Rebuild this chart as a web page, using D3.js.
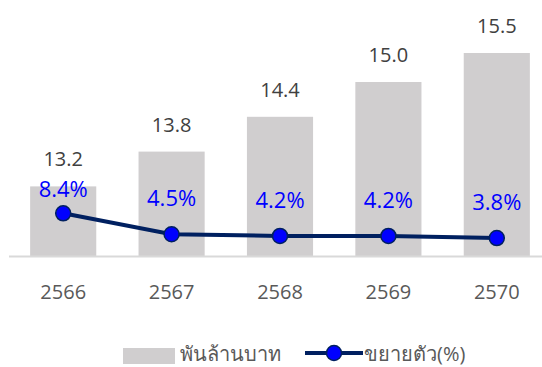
<!DOCTYPE html>
<html>
<head>
<meta charset="utf-8">
<script src="https://cdn.jsdelivr.net/npm/d3@7"></script>
<style>
  body { margin: 0; background: #fff; }
  svg text { font-family: "Open Sans", "Noto Sans", sans-serif; }
</style>
</head>
<body>
<div id="chart"></div>
<script>
// ข้อมูล
const years = ["2566", "2567", "2568", "2569", "2570"];
const values = [13.2, 13.8, 14.4, 15.0, 15.5];     // พันล้านบาท
const growth = [8.4, 4.5, 4.2, 4.2, 3.8];          // ขยายตัว(%)
const legendLabels = ["พันล้านบาท", "ขยายตัว(%)"];

const width = 542, height = 367;
const baseY = 256;

const svg = d3.select("#chart").append("svg")
    .attr("width", width)
    .attr("height", height);

const x = d3.scaleBand()
    .domain(years)
    .range([9, 551])
    .paddingInner(0.39)
    .paddingOuter(0.195);

const y = d3.scaleLinear().domain([12, 16]).range([baseY, 24]);
// แกนรองสำหรับอัตราการขยายตัว
const y2 = d3.scaleLinear().domain([0, 40]).range([258.5, 43.3]);

const rows = years.map((yr, i) => ({ yr, v: values[i], g: growth[i] }));

// แท่ง
svg.append("g")
    .selectAll("rect")
    .data(rows)
    .join("rect")
    .attr("x", d => x(d.yr))
    .attr("y", d => y(d.v))
    .attr("width", x.bandwidth())
    .attr("height", d => baseY - y(d.v))
    .attr("fill", "#d0cecf");

// เส้นแกน x
const xAxis = svg.append("g")
    .attr("transform", `translate(0,${baseY})`)
    .call(d3.axisBottom(x).tickSize(0).tickPadding(29));
xAxis.select(".domain")
    .attr("d", `M9,0.5H${width}`)
    .attr("stroke", "#d9d9d9")
    .attr("stroke-width", 2);
xAxis.selectAll("text")
    .attr("font-size", 20)
    .attr("fill", "#595959");

// ค่าบนแท่ง
svg.append("g")
    .selectAll("text")
    .data(rows)
    .join("text")
    .attr("x", d => x(d.yr) + x.bandwidth() / 2)
    .attr("y", d => y(d.v) - 20)
    .attr("text-anchor", "middle")
    .attr("font-size", 20)
    .attr("fill", "#404040")
    .text(d => d3.format(".1f")(d.v));

// เส้นการขยายตัว
const cx = d => x(d.yr) + x.bandwidth() / 2;
svg.append("path")
    .datum(rows)
    .attr("fill", "none")
    .attr("stroke", "#002060")
    .attr("stroke-width", 4)
    .attr("d", d3.line().x(cx).y(d => y2(d.g)));

svg.append("g")
    .selectAll("circle")
    .data(rows)
    .join("circle")
    .attr("cx", cx)
    .attr("cy", d => y2(d.g))
    .attr("r", 7.5)
    .attr("fill", "#0000ff")
    .attr("stroke", "#002060")
    .attr("stroke-width", 1.5);

// ป้ายเปอร์เซ็นต์ (ถ้าชนขอบแท่งให้เลื่อนลงไปอยู่ในแท่ง)
svg.append("g")
    .selectAll("text")
    .data(rows)
    .join("text")
    .attr("x", cx)
    .attr("y", d => Math.max(y2(d.g) - 28, y(d.v) + 11))
    .attr("text-anchor", "middle")
    .attr("font-size", 22)
    .attr("fill", "#0000ff")
    .text(d => d3.format(".1f")(d.g) + "%");

// คำอธิบาย
const legend = svg.append("g").attr("font-size", 20).attr("fill", "#595959");
legend.append("rect")
    .attr("x", 123).attr("y", 348)
    .attr("width", 52).attr("height", 16)
    .attr("fill", "#d0cecf");
legend.append("text")
    .attr("x", 180).attr("y", 361)
    .text(legendLabels[0]);
legend.append("line")
    .attr("x1", 305).attr("x2", 363)
    .attr("y1", 353).attr("y2", 353)
    .attr("stroke", "#002060").attr("stroke-width", 4);
legend.append("circle")
    .attr("cx", 334).attr("cy", 353).attr("r", 7.5)
    .attr("fill", "#0000ff")
    .attr("stroke", "#002060").attr("stroke-width", 1.5);
legend.append("text")
    .attr("x", 364).attr("y", 361)
    .text(legendLabels[1]);
</script>
</body>
</html>
